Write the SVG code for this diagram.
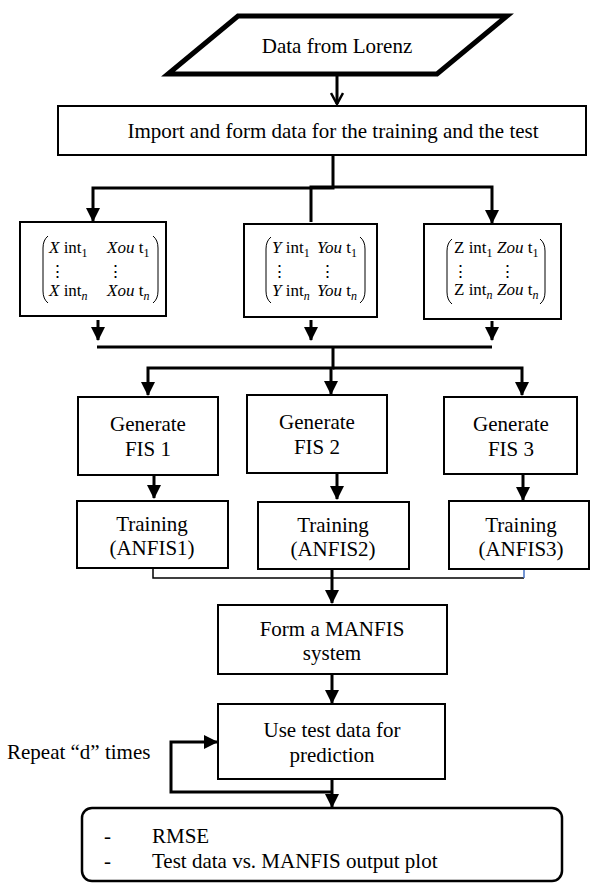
<svg xmlns="http://www.w3.org/2000/svg" width="598" height="883" viewBox="0 0 598 883">
<style>
text{font-family:"Liberation Serif","Times New Roman",serif;fill:#000}
.t{font-size:21px}
.c{text-anchor:middle}
.m{font-size:17px}
.s{font-size:12px}
.box{fill:#fff;stroke:#000;stroke-width:2}
.ln{fill:none;stroke:#000;stroke-width:3}
.thin{fill:none;stroke:#000;stroke-width:1.5}
.par{fill:none;stroke:#000;stroke-width:1}
.i{font-style:italic}
</style>
<defs>
<marker id="ah" markerUnits="userSpaceOnUse" viewBox="0 0 14 14" markerWidth="14" markerHeight="14" refX="13" refY="7" orient="auto">
<path d="M0,0 L14,7 L0,14 z" fill="#000"/>
</marker>
<marker id="av" markerUnits="userSpaceOnUse" viewBox="0 0 14 14" markerWidth="14" markerHeight="14" refX="12" refY="7" orient="auto">
<path d="M1,1 L12,7 L1,13" fill="none" stroke="#000" stroke-width="2.5"/>
</marker>
</defs>

<g id="connectors">
<path class="ln" d="M337,76 V104" marker-end="url(#av)"/>
<path class="ln" d="M333,155 V188 H93 V221" marker-end="url(#ah)"/>
<path class="ln" d="M311,222 V187 H492 V223" marker-end="url(#ah)"/>
<path class="ln" d="M98,320 V340" marker-end="url(#ah)"/>
<path class="ln" d="M311,320 V340" marker-end="url(#ah)"/>
<path class="ln" d="M492,321 V340" marker-end="url(#ah)"/>
<path class="ln" d="M97,347 H492"/>
<path class="ln" d="M333,347 V368 H148 V395" marker-end="url(#ah)"/>
<path class="ln" d="M331,368 V394" marker-end="url(#ah)"/>
<path class="ln" d="M333,368 H522 V395" marker-end="url(#ah)"/>
<path class="ln" d="M154,476 V498" marker-end="url(#ah)"/>
<path class="ln" d="M337,474 V499" marker-end="url(#ah)"/>
<path class="ln" d="M523,475 V500" marker-end="url(#ah)"/>
<path class="thin" d="M153,569 V578 H524"/>
<path d="M524,569 V578" fill="none" stroke="#4472C4" stroke-width="1.5"/>
<path class="ln" d="M332,570 V603" marker-end="url(#ah)"/>
<path class="ln" d="M332,675 V703" marker-end="url(#ah)"/>
<path class="ln" d="M332,780 V807" marker-end="url(#ah)"/>
<path class="ln" d="M332,792 H171 V742 H217" marker-end="url(#ah)"/>
</g>

<g id="lorenz">
<polygon points="238,16 507,16 437,74 168,74" fill="#fff" stroke="#000" stroke-width="5"/>
<text class="t c" x="337" y="53">Data from Lorenz</text>
</g>

<g id="import">
<rect class="box" x="58" y="106" width="528" height="49"/>
<text class="t c" x="333" y="138">Import and form data for the training and the test</text>
</g>

<g id="matrixX">
<rect class="box" x="20" y="222" width="146" height="94"/>
<path class="par" d="M48,236 Q43,240 43,248 L43,291 Q43,299 48,303"/>
<path class="par" d="M153,236 Q158,240 158,248 L158,291 Q158,299 153,303"/>
<text class="m" x="49" y="253"><tspan class="i">X</tspan> int<tspan class="s" dy="4">1</tspan></text>
<text class="m" x="107" y="253"><tspan class="i">Xou</tspan> t<tspan class="s" dy="4">1</tspan></text>
<text class="m" x="49" y="277">⋮</text>
<text class="m" x="107" y="277">⋮</text>
<text class="m" x="49" y="296"><tspan class="i">X</tspan> int<tspan class="i s" dy="4">n</tspan></text>
<text class="m" x="107" y="296"><tspan class="i">Xou</tspan> t<tspan class="i s" dy="4">n</tspan></text>
</g>

<g id="matrixY">
<rect class="box" x="244" y="224" width="133" height="93"/>
<path class="par" d="M271,237 Q266,241 266,249 L266,291 Q266,299 271,303"/>
<path class="par" d="M360,237 Q365,241 365,249 L365,291 Q365,299 360,303"/>
<text class="m" x="272" y="253"><tspan class="i">Y</tspan> int<tspan class="s" dy="4">1</tspan></text>
<text class="m" x="317" y="253"><tspan class="i">You</tspan> t<tspan class="s" dy="4">1</tspan></text>
<text class="m" x="271" y="277">⋮</text>
<text class="m" x="319" y="277">⋮</text>
<text class="m" x="272" y="296"><tspan class="i">Y</tspan> int<tspan class="i s" dy="4">n</tspan></text>
<text class="m" x="317" y="296"><tspan class="i">You</tspan> t<tspan class="i s" dy="4">n</tspan></text>
</g>

<g id="matrixZ">
<rect class="box" x="424" y="224" width="137" height="95"/>
<path class="par" d="M452,239 Q447,243 447,251 L447,292 Q447,300 452,304"/>
<path class="par" d="M540,239 Q545,243 545,251 L545,292 Q545,300 540,304"/>
<text class="m" x="454" y="253">Z int<tspan class="s" dy="4">1</tspan></text>
<text class="m" x="497" y="253"><tspan class="i">Zou</tspan> t<tspan class="s" dy="4">1</tspan></text>
<text class="m" x="452" y="277">⋮</text>
<text class="m" x="499" y="277">⋮</text>
<text class="m" x="454" y="295">Z int<tspan class="i s" dy="4">n</tspan></text>
<text class="m" x="497" y="295"><tspan class="i">Zou</tspan> t<tspan class="i s" dy="4">n</tspan></text>
</g>

<g id="fis1">
<rect class="box" x="78" y="397" width="140" height="78"/>
<text class="t c" x="148" y="431">Generate</text>
<text class="t c" x="148" y="456">FIS 1</text>
</g>
<g id="fis2">
<rect class="box" x="247" y="395" width="140" height="78"/>
<text class="t c" x="317" y="429">Generate</text>
<text class="t c" x="317" y="454">FIS 2</text>
</g>
<g id="fis3">
<rect class="box" x="444" y="397" width="133" height="77"/>
<text class="t c" x="511" y="431">Generate</text>
<text class="t c" x="511" y="456">FIS 3</text>
</g>

<g id="train1">
<rect class="box" x="77" y="501" width="151" height="67"/>
<text class="t c" x="152" y="531">Training</text>
<text class="t c" x="152" y="555">(ANFIS1)</text>
</g>
<g id="train2">
<rect class="box" x="258" y="502" width="151" height="67"/>
<text class="t c" x="333" y="532">Training</text>
<text class="t c" x="333" y="556">(ANFIS2)</text>
</g>
<g id="train3">
<rect class="box" x="449" y="501" width="140" height="68"/>
<text class="t c" x="521" y="532">Training</text>
<text class="t c" x="521" y="556">(ANFIS3)</text>
</g>

<g id="manfis">
<rect class="box" x="218" y="605" width="229" height="69"/>
<text class="t c" x="332" y="636">Form a MANFIS</text>
<text class="t c" x="332" y="660">system</text>
</g>

<g id="usetest">
<rect class="box" x="218" y="704" width="227" height="75"/>
<text class="t c" x="332" y="737">Use test data for</text>
<text class="t c" x="332" y="762">prediction</text>
</g>

<g id="repeat">
<text class="t" x="7" y="759">Repeat “d” times</text>
</g>

<g id="result">
<rect x="82" y="808" width="480" height="73" rx="10" ry="10" fill="#fff" stroke="#000" stroke-width="2.5"/>
<text class="t" x="104" y="843">-</text>
<text class="t" x="152" y="843">RMSE</text>
<text class="t" x="104" y="868">-</text>
<text class="t" x="152" y="868">Test data vs. MANFIS output plot</text>
</g>
</svg>
